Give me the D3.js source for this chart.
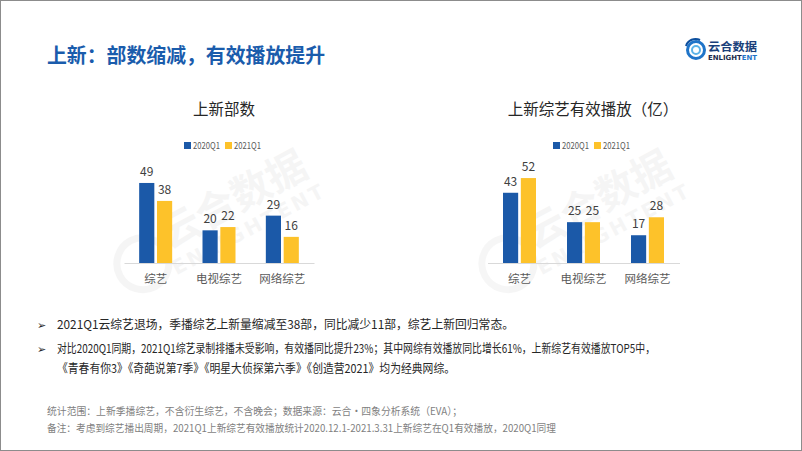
<!DOCTYPE html>
<html><head><meta charset="utf-8">
<script src="https://cdn.jsdelivr.net/npm/d3@7/dist/d3.min.js"></script>
<style>
html,body{margin:0;padding:0;background:#fff;}
svg{display:block;font-family:"Noto Sans CJK SC","Noto Sans",sans-serif;}
</style></head>
<body>
<svg id="c" width="802" height="451"></svg>
<script>
const categories = ["综艺", "电视综艺", "网络综艺"];
const seriesNames = ["2020Q1", "2021Q1"];
const countValues2020 = [49, 20, 29];
const countValues2021 = [38, 22, 16];
const playValues2020 = [43, 25, 17];
const playValues2021 = [52, 25, 28];
const chartTitles = ["上新部数", "上新综艺有效播放（亿）"];
const mainTitle = "上新：部数缩减，有效播放提升";
const bullets = [
  ["2021Q1云综艺退场，季播综艺上新量缩减至38部，同比减少11部，综艺上新回归常态。"],
  ["对比2020Q1同期，2021Q1综艺录制排播未受影响，有效播同比提升23%；其中网综有效播放同比增长61%，上新综艺有效播放TOP5中，",
   "《青春有你3》《奇葩说第7季》《明星大侦探第六季》《创造营2021》均为经典网综。"]
];
const notes = [
  "统计范围：上新季播综艺，不含衍生综艺，不含晚会；数据来源：云合·四象分析系统（EVA）；",
  "备注：考虑到综艺播出周期，2021Q1上新综艺有效播放统计2020.12.1-2021.3.31上新综艺在Q1有效播放，2020Q1同理"
];

const colors = ["#1b59a8", "#fdc22a"];
const svg = d3.select("#c");

// border
svg.append("rect").attr("x",0.5).attr("y",0.5).attr("width",801).attr("height",450)
  .attr("fill","#fff").attr("stroke","#8c8c8c").attr("stroke-width",1);

// main title
svg.append("text").attr("x",47).attr("y",63).attr("font-size",20).attr("font-weight","bold")
  .attr("fill","#1a5cac").attr("textLength",278).attr("lengthAdjust","spacingAndGlyphs").text(mainTitle);

// logo
const logo = svg.append("g");
logo.append("circle").attr("cx",696).attr("cy",50).attr("r",8.5).attr("fill","none").attr("stroke","#1f74c8").attr("stroke-width",3);
logo.append("circle").attr("cx",696).attr("cy",50).attr("r",4).attr("fill","none").attr("stroke","#5bb3e8").attr("stroke-width",2);
logo.append("path").attr("d","M686,46 A10,10 0 0,1 700,40").attr("fill","none").attr("stroke","#0d4f9e").attr("stroke-width",2);
logo.append("text").attr("x",708).attr("y",51).attr("font-size",11.5).attr("font-weight","bold").attr("fill","#1a3f7a")
  .attr("textLength",49).attr("lengthAdjust","spacingAndGlyphs").text("云合数据");
const lt = logo.append("text").attr("x",708).attr("y",60).attr("font-size",7).attr("font-weight","bold")
  .attr("font-family","DejaVu Sans").attr("textLength",49).attr("lengthAdjust","spacingAndGlyphs");
lt.append("tspan").attr("fill","#1a2a4a").text("ENLIGHT");
lt.append("tspan").attr("fill","#1f74c8").text("ENT");

function watermark(cx, cy){
  const g = svg.append("g").attr("transform",`translate(${cx},${cy}) rotate(-28)`).attr("opacity",0.035);
  g.append("text").attr("text-anchor","middle").attr("y",0).attr("font-size",40).attr("font-weight","bold").attr("fill","#000").text("云合数据");
  g.append("text").attr("text-anchor","middle").attr("y",26).attr("font-size",20).attr("font-weight","bold")
    .attr("font-family","DejaVu Sans").attr("letter-spacing",3).attr("fill","#000").text("ENLIGHTENT");
  g.append("circle").attr("cx",-110).attr("cy",0).attr("r",26).attr("fill","none").attr("stroke","#000").attr("stroke-width",7);
}
watermark(240, 212);
watermark(605, 212);

const y = d3.scaleLinear().domain([0, 60]).range([263, 165]);

function drawChart(range, titleCenter, title, v1, v2){
  const g = svg.append("g");
  const x0 = d3.scaleBand().domain(categories).range(range);
  const x1 = d3.scaleBand().domain(seriesNames).range([-16.5, 16.5]).paddingInner(0.15);
  g.append("text").attr("x",titleCenter).attr("y",115).attr("text-anchor","middle").attr("font-size",15.5)
    .attr("fill","#262626").text(title);
  // legend
  const lg = g.append("g");
  [[-40,-31],[1,10]].forEach((p,i)=>{
    lg.append("rect").attr("x",titleCenter+p[0]).attr("y",142).attr("width",7).attr("height",7).attr("fill",colors[i]);
    lg.append("text").attr("x",titleCenter+p[1]).attr("y",149).attr("font-size",9.5).attr("fill","#595959")
      .attr("textLength",27).attr("lengthAdjust","spacingAndGlyphs").text(seriesNames[i]);
  });
  const data = categories.map((c,i)=>({c, vals:[v1[i], v2[i]]}));
  const grp = g.selectAll("g.cat").data(data).join("g").attr("class","cat")
    .attr("transform", d=>`translate(${x0(d.c)+x0.bandwidth()/2},0)`);
  grp.selectAll("rect").data(d=>d.vals.map((v,i)=>({v, s:seriesNames[i], i}))).join("rect")
    .attr("x", d=>x1(d.s)).attr("width", x1.bandwidth())
    .attr("y", d=>y(d.v)).attr("height", d=>y(0)-y(d.v)).attr("fill", d=>colors[d.i]);
  grp.selectAll("text.v").data(d=>d.vals.map((v,i)=>({v, s:seriesNames[i]}))).join("text").attr("class","v")
    .attr("x", d=>x1(d.s)+x1.bandwidth()/2).attr("y", d=>y(d.v)-7).attr("text-anchor","middle")
    .attr("font-size",12).attr("fill","#404040").text(d=>d.v);
  // axis
  const ax = g.append("g").attr("transform",`translate(0,${y(0)})`)
    .call(d3.axisBottom(x0).tickSize(0).tickPadding(12));
  ax.select(".domain").attr("stroke","#d9d9d9").attr("stroke-width",1);
  ax.selectAll("text").attr("font-size",11.5).attr("fill","#595959").attr("font-family",'"Noto Sans CJK SC",sans-serif');
}
drawChart([124, 314], 224, chartTitles[0], countValues2020, countValues2021);
drawChart([487.5, 679.5], 593, chartTitles[1], playValues2020, playValues2021);

// bullets
const bl = svg.append("g").attr("fill","#262626");
const lineY = [[329],[353,373]];
const widths = [[457],[598,398]];
bullets.forEach((b,i)=>{
  bl.append("text").attr("x",37).attr("y",lineY[i][0]).attr("font-size",11).attr("font-family","DejaVu Sans").text("➢");
  b.forEach((t,j)=>{
    bl.append("text").attr("x",57).attr("y",lineY[i][j]).attr("font-size",12)
      .attr("textLength",widths[i][j]).attr("lengthAdjust","spacingAndGlyphs").text(t);
  });
});

// notes
const nw = [415, 509];
notes.forEach((t,i)=>{
  svg.append("text").attr("x",47).attr("y",415+i*17).attr("font-size",10.5).attr("fill","#7f7f7f")
    .attr("textLength",nw[i]).attr("lengthAdjust","spacingAndGlyphs").text(t);
});
</script>
</body></html>
